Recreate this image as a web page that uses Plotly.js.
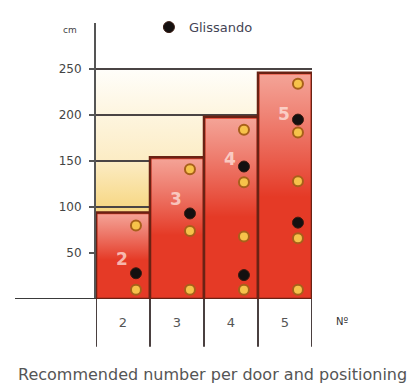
<!DOCTYPE html>
<html>
<head>
<meta charset="utf-8">
<script src="https://cdn.plot.ly/plotly-3.0.1.min.js"></script>
<style>html,body{margin:0;padding:0;background:#fff;}#chart{width:414px;height:387px;}</style>
</head>
<body>
<div id="chart"></div>
<script>
// ---- data ----
const categories = [2, 3, 4, 5];
const barHeights = [94, 154, 198, 246];
const glissandoCat = [2, 3, 4, 4, 5, 5];
const glissandoY = [28, 93, 144, 26, 195, 83];
const pointCat = [2, 2, 3, 3, 3, 4, 4, 4, 4, 5, 5, 5, 5, 5];
const pointY = [80, 10, 141, 74, 10, 184, 127, 68, 10, 234, 181, 128, 66, 10];
const barLabels = ['2', '3', '4', '5'];
const barLabelY = [44, 109, 152, 201];
const yTickVals = [50, 100, 150, 200, 250];
const xTickText = ['2', '3', '4', '5'];
const backdropTop = 250;

// ---- styling constants ----
const dotOffset = 0.24;
const font = 'DejaVu Sans, Verdana, sans-serif';

const traces = [];
traces.push({
  type: 'bar', x: categories, y: barHeights, width: 1,
  marker: {color: '#e53a26', line: {color: '#6a2214', width: 2.5}},
  showlegend: false, hoverinfo: 'skip'
});
// highlight overlays derived from bar data
categories.forEach((c, i) => {
  const h = barHeights[i];
  traces.push({
    type: 'scatter', mode: 'none',
    x: [c - 0.47, c + 0.47, c + 0.47, c - 0.47, c - 0.47],
    y: [1, 1, h - 2, h - 2, 1],
    fill: 'toself',
    fillgradient: {type: 'vertical', start: 0, stop: h,
      colorscale: [[0, 'rgba(255,255,255,0)'], [0.45, 'rgba(255,255,255,0)'], [1, 'rgba(255,236,228,0.6)']]},
    showlegend: false, hoverinfo: 'skip'
  });
});
traces.push({
  type: 'scatter', mode: 'markers',
  x: pointCat.map(c => c + dotOffset), y: pointY,
  marker: {size: 10, color: '#f6c24a', line: {color: '#a8601a', width: 2}},
  showlegend: false, hoverinfo: 'skip'
});
traces.push({
  type: 'scatter', mode: 'markers', name: 'Glissando',
  x: glissandoCat.map(c => c + dotOffset), y: glissandoY,
  marker: {size: 11, color: '#141010', line: {color: '#3a1a10', width: 1}},
  hoverinfo: 'skip'
});

const svg = '<svg xmlns="http://www.w3.org/2000/svg" width="100" height="100" preserveAspectRatio="none">' +
  '<defs><linearGradient id="g" x1="0" y1="0" x2="0" y2="1">' +
  '<stop offset="0" stop-color="#fffefa"/><stop offset="0.4" stop-color="#fcecc4"/>' +
  '<stop offset="0.6" stop-color="#f7d886"/><stop offset="1" stop-color="#f3c860"/></linearGradient></defs>' +
  '<rect width="100" height="100" fill="url(#g)"/></svg>';

const shapes = [];
// separators under the x axis between columns
const edges = categories.map(c => c - 0.5).concat([categories[categories.length - 1] + 0.5]);
edges.forEach(e => shapes.push({type: 'line', xref: 'x', yref: 'paper', x0: e, x1: e, y0: 0, y1: -0.173,
  line: {color: '#4a4040', width: 2}}));
shapes.push({type: 'line', xref: 'paper', yref: 'y', x0: -0.375, x1: 0, y0: 0, y1: 0,
  line: {color: '#3a3a3a', width: 2}});

const annotations = [];
categories.forEach((c, i) => annotations.push({
  x: c - 0.02, y: barLabelY[i], xref: 'x', yref: 'y', text: barLabels[i], showarrow: false,
  font: {family: font, size: 17, color: 'rgba(255,238,232,0.7)', weight: 'bold'}
}));
annotations.push({x: -0.12, y: 292, xref: 'paper', yref: 'y', xanchor: 'center', yanchor: 'middle',
  text: 'cm', showarrow: false, font: {family: font, size: 9, color: '#444'}});
annotations.push({x: 1.139, y: -0.081, xref: 'paper', yref: 'paper', xanchor: 'center', yanchor: 'middle',
  text: 'Nº', showarrow: false, font: {family: font, size: 10, color: '#333'}});
annotations.push({x: 0.54, y: -0.275, xref: 'paper', yref: 'paper', xanchor: 'center', yanchor: 'middle',
  text: 'Recommended number per door and positioning',
  showarrow: false, font: {family: font, size: 16, color: '#555'}});

const layout = {
  width: 414, height: 387,
  margin: {l: 96, r: 102, t: 15, b: 88},
  paper_bgcolor: '#ffffff', plot_bgcolor: 'rgba(0,0,0,0)',
  font: {family: font, color: '#444'},
  xaxis: {range: [1.5, 5.5], tickvals: categories, ticktext: xTickText, ticks: '', showgrid: false,
    zeroline: false, showline: false, ticklabelstandoff: 14, tickfont: {family: font, size: 13, color: '#555'}, fixedrange: true},
  yaxis: {range: [0, 300], tickvals: yTickVals, ticks: 'outside', ticklen: 5, tickwidth: 1.5, tickcolor: '#555',
    showgrid: true, gridcolor: '#4a4444', gridwidth: 1.5, zeroline: false,
    showline: true, linecolor: '#555', linewidth: 2, ticklabelstandoff: 5,
    tickfont: {family: font, size: 12, color: '#444'}, fixedrange: true},
  showlegend: true,
  legend: {orientation: 'h', x: 0.245, y: 0.985, xanchor: 'left', yanchor: 'middle',
    bgcolor: 'rgba(0,0,0,0)', font: {family: font, size: 13, color: '#445'}},
  images: [{source: 'data:image/svg+xml;charset=utf-8,' + encodeURIComponent(svg),
    xref: 'x', yref: 'y', x: 1.5, y: backdropTop, sizex: 4, sizey: backdropTop,
    xanchor: 'left', yanchor: 'top', sizing: 'stretch', layer: 'below'}],
  shapes: shapes, annotations: annotations,
  bargap: 0
};

Plotly.newPlot('chart', traces, layout, {displayModeBar: false, staticPlot: true});
</script>
</body>
</html>
